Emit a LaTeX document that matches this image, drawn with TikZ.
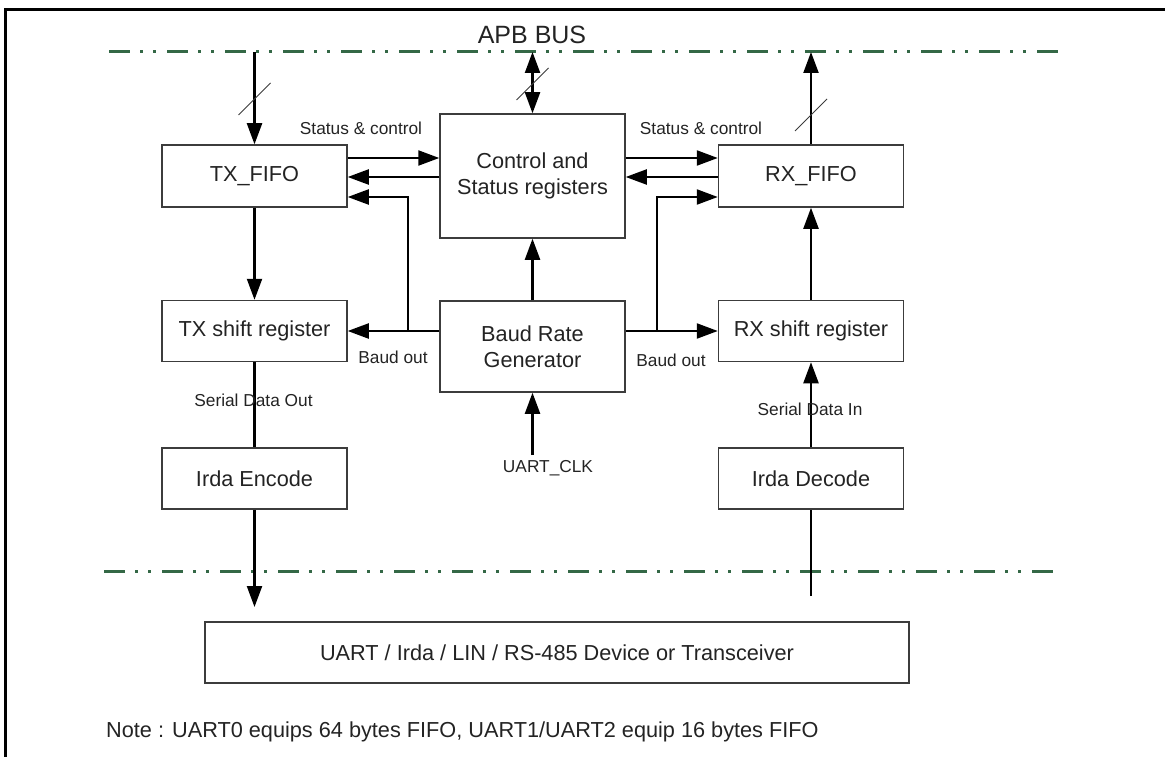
\documentclass[tikz,border=0pt]{standalone}
\usepackage{fontspec}
\setmainfont{Liberation Sans}
\usetikzlibrary{arrows.meta}
\definecolor{busgreen}{RGB}{52,104,70}
\definecolor{boxgray}{RGB}{60,60,60}
\definecolor{txt}{RGB}{35,35,35}
\begin{document}
\begin{tikzpicture}[x=1pt,y=-1pt,
  blk/.style={draw=boxgray, line width=1.5pt, minimum width=185pt, inner sep=0pt,
    text=txt, font=\fontsize{21.7}{26.5}\selectfont, align=center},
  lbl/.style={text=txt, font=\fontsize{17.3}{20}\selectfont, inner sep=0pt},
  arr/.style={line width=2.2pt, -{Triangle[length=21pt,width=15pt]}},
  darr/.style={line width=2.2pt, {Triangle[length=21pt,width=15pt]}-{Triangle[length=21pt,width=15pt]}},
  plain/.style={line width=2.2pt},
  bus/.style={busgreen, line width=3pt, dash pattern=on 21pt off 10pt on 3pt off 10pt on 3pt off 11pt},
  slash/.style={line width=1pt, boxgray}]
\useasboundingbox (0,0) rectangle (1165,757);
% frame
\draw[line width=3pt] (5,757) -- (5,10) -- (1165,10);
% buses
\draw[bus] (109,52) -- (1065,52);
\draw[bus] (104,571) -- (1062,571);
\node[text=txt, font=\fontsize{25}{30}\selectfont, inner sep=0pt] (apb) at (532,35) {APB BUS};
% blocks
\node[blk, minimum height=62pt] (txf) at (254.5,176) {TX\_FIFO};
\node[blk, minimum height=124pt] (ctl) at (532.5,176) {Control and\\Status registers};
\node[blk, minimum height=62pt] (rxf) at (811,176) {RX\_FIFO};
\node[blk, minimum height=61pt] (txs) at (254.5,331) {TX shift register};
\node[blk, minimum height=91pt] (baud) at (532.5,346.5) {Baud Rate\\Generator};
\node[blk, minimum height=61pt] (rxs) at (811,331) {RX shift register};
\node[blk, minimum height=61pt] (ire) at (254.5,478.5) {Irda Encode};
\node[blk, minimum height=61pt] (ird) at (811,478.5) {Irda Decode};
\node[blk, minimum height=61pt, minimum width=704pt] (dev) at (557,652.5) {UART / Irda / LIN / RS-485 Device or Transceiver};
% coordinates
\coordinate (txbus) at (254.5,52);
\coordinate (ctlbus) at (532.5,52);
\coordinate (rxbus) at (811,52);
\coordinate (jl) at (408,331);
\coordinate (jr) at (657,331);
\coordinate (clkin) at (532.5,455);
\coordinate (txout) at (254.5,607);
\coordinate (rxin) at (811,596);
% bus connections
\draw[arr] (txbus) -- (txf.north);
\draw[darr] (ctlbus) -- (ctl.north);
\draw[arr] (rxf.north) -- (rxbus);
\draw[slash] (238.5,115) -- (270.5,83);
\draw[slash] (516.5,100) -- (548.5,68);
\draw[slash] (795,131) -- (827,99);
% FIFO <-> control
\draw[arr] (txf.east |- 0,158) -- (ctl.west |- 0,158);
\draw[arr] (ctl.west |- 0,177) -- (txf.east |- 0,177);
\draw[arr] (ctl.east |- 0,158) -- (rxf.west |- 0,158);
\draw[arr] (rxf.west |- 0,177) -- (ctl.east |- 0,177);
% baud
\draw[arr] (baud.west |- txs) -- (txs.east);
\draw[arr] (baud.east |- rxs) -- (rxs.west);
\draw[arr] (jl) -- (408,197) -- (txf.east |- 0,197);
\draw[arr] (jr) -- (657,197) -- (rxf.west |- 0,197);
\draw[arr] (baud.north) -- (ctl.south);
\draw[arr] (clkin) -- (baud.south);
% TX chain
\draw[arr] (txf.south) -- (txs.north);
\draw[plain] (txs.south) -- (ire.north);
\draw[arr] (ire.south) -- (txout);
% RX chain
\draw[plain] (rxin) -- (ird.south);
\draw[arr] (ird.north) -- (rxs.south);
\draw[arr] (rxs.north) -- (rxf.south);
% labels
\node[lbl] (stl) at (361,128) {Status \& control};
\node[lbl] (str) at (701,128) {Status \& control};
\node[lbl] (bol) at (393,357) {Baud out};
\node[lbl] (bor) at (671,360) {Baud out};
\node[lbl] (sdo) at (253.5,400) {Serial Data Out};
\node[lbl] (sdi) at (810,409) {Serial Data In};
\node[lbl] (clk) at (548,468) {UART\_CLK};
\node[text=txt, font=\fontsize{21.7}{26}\selectfont, inner sep=0pt, anchor=west] (note) at (106,732) {Note : UART0 equips 64 bytes FIFO, UART1/UART2 equip 16 bytes FIFO};
\end{tikzpicture}
\end{document}
